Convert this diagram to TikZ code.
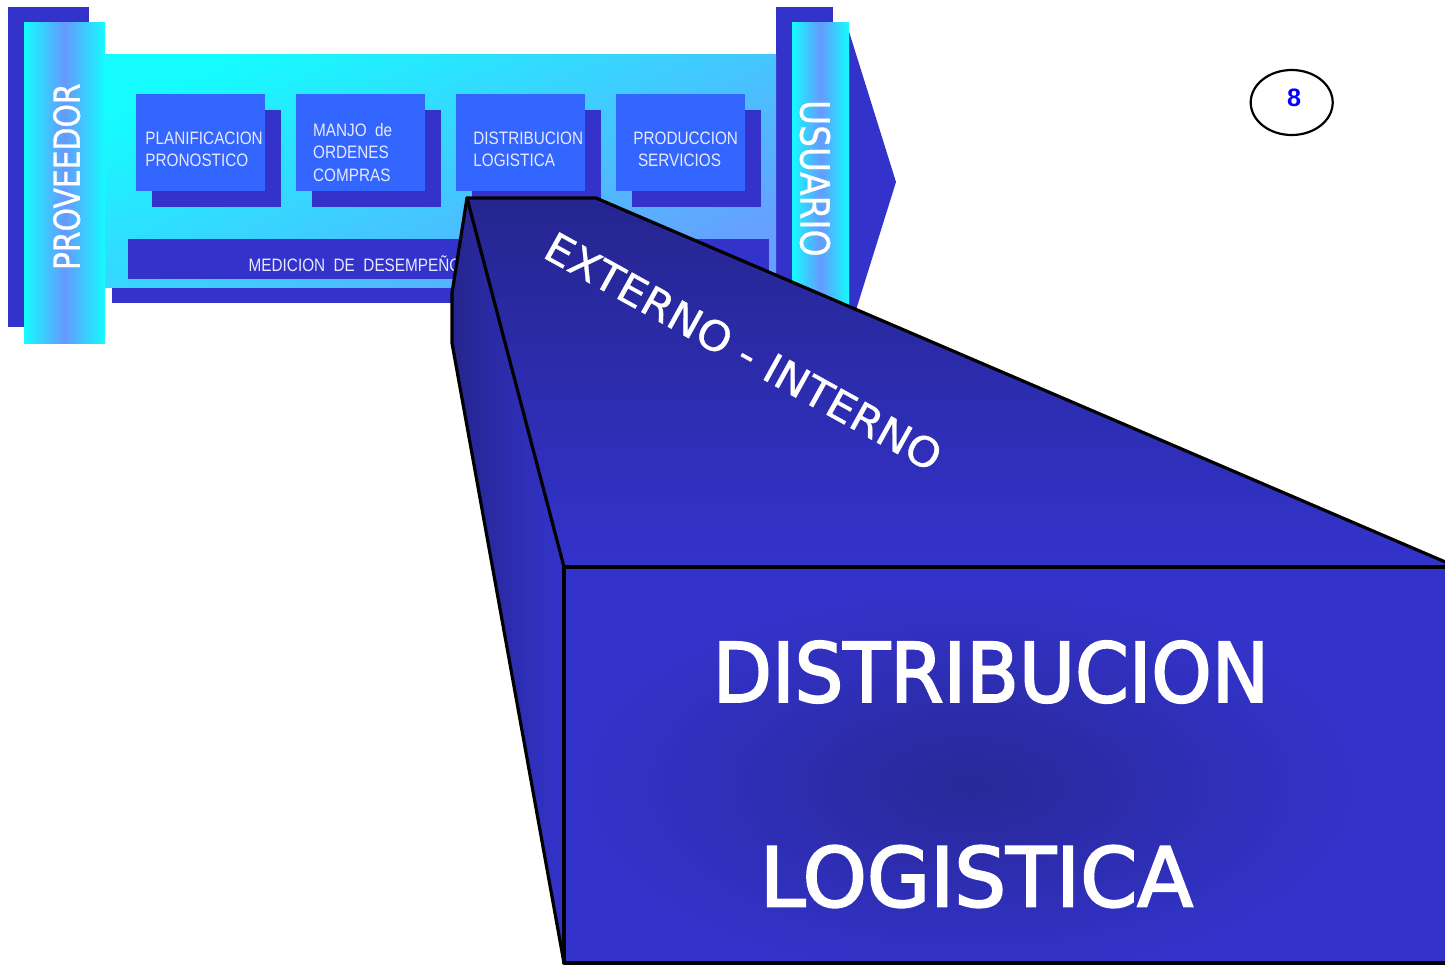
\documentclass[tikz,border=0pt]{standalone}
\usepackage{fontspec}
\usepackage{graphicx}
\usetikzlibrary{shapes.geometric}
\setmainfont{Liberation Sans}
\newfontfamily\narfont[FakeStretch=0.85]{Liberation Sans}
\newfontfamily\dvfont[FakeBold=2.5]{DejaVu Sans}
\newfontfamily\dvlight[FakeBold=0.8]{DejaVu Sans}
\definecolor{dkblue}{HTML}{3333CC}
\definecolor{boxblue}{HTML}{3366FF}
\definecolor{cyanA}{HTML}{14FCFF}
\definecolor{midblue}{HTML}{6699FF}
\definecolor{bandbot}{HTML}{66A0FF}
\definecolor{navy}{HTML}{25258F}
\definecolor{navyc}{HTML}{282898}
\definecolor{lav}{HTML}{E8E8FF}
\newcommand\mlines[1]{\begin{tabular}[t]{@{}l@{}}#1\end{tabular}}
\tikzset{
  lbl/.style={inner sep=0pt, anchor=base west, text=lav, font=\narfont\fontsize{9}{11.3}\selectfont},
  bigtxt/.style={inner sep=0pt, text=white, font=\dvfont},
  edgeline/.style={draw=black, line width=1.6pt, line join=round, line cap=round},
  shadowbox/.style={fill=dkblue},
  frontbox/.style={fill=boxblue},
  pillar/.style={left color=cyanA, right color=cyanA, middle color=midblue}
}
\begin{document}
\begin{tikzpicture}[x=0.5pt,y=-0.5pt]
\path[use as bounding box] (0,0) rectangle (1445,965);
\clip (0,0) rectangle (1445,965);

% back pillars
\fill[dkblue] (8,7) rectangle (89,327);
\fill[dkblue] (776,7) rectangle (833,327);
% band
\fill[dkblue] (112,287) rectangle (792,303);
\shade[top color=cyanA, bottom color=bandbot, shading angle=25] (96,54) rectangle (776,287);

% process boxes
\foreach \x in {136,296,456,616}{
  \fill[shadowbox] (\x+16,110) rectangle (\x+145,207);
  \fill[frontbox] (\x,94) rectangle (\x+129,191);
}
\node[lbl] (plan) at (145,144) {\mlines{PLANIFICACION\\PRONOSTICO}};
\node[lbl] (manjo) at (312.7,136) {\mlines{MANJO\ \ de\\ORDENES\\COMPRAS}};
\node[lbl] (dist) at (473,144) {\mlines{DISTRIBUCION\\LOGISTICA}};
\node[lbl] (prod) at (633,144) {\mlines{PRODUCCION\\\hspace*{2.3pt}SERVICIOS}};

% medicion bar
\fill[dkblue] (128,239) rectangle (769,279);
\node[lbl] (med) at (248.3,271.7) {MEDICION\ \ DE\ \ DESEMPEÑO};

% proveedor
\shade[pillar] (24,22) rectangle (105,343);
\node[bigtxt, font=\dvlight, rotate=90] (prov) at (66.7,176.7) {\resizebox{93.3pt}{13.35pt}{PROVEEDOR}};

% usuario arrow
\fill[dkblue] (846,22) -- (896,182) -- (846,342) -- cycle;
\shade[pillar] (792,22) rectangle (849,343);
\node[bigtxt, font=\dvlight, rotate=-90] (usu) at (815,178.3) {\resizebox{78.3pt}{15pt}{USUARIO}};

% 3D block
\coordinate (A) at (467,198);
\coordinate (B) at (596,198);
\coordinate (C) at (1457,567);
\coordinate (D) at (564,567);
\coordinate (E) at (1457,963);
\coordinate (F) at (564,963);
\coordinate (G) at (452,293);
\coordinate (H) at (452,343);
\shade[top color=navy, bottom color=dkblue] (A) -- (B) -- (C) -- (D) -- cycle;
\shade[left color=navy, right color=dkblue] (A) -- (G) -- (H) -- (F) -- (D) -- cycle;
\fill[dkblue] (D) -- (C) -- (E) -- (F) -- cycle;
\begin{scope}
  \clip (D) -- (C) -- (E) -- (F) -- cycle;
  \shade[inner color=navyc, outer color=dkblue] (970,785) ellipse [x radius=200pt, y radius=100pt];
\end{scope}
\draw[edgeline] (A) -- (B) -- (C);
\draw[edgeline] (A) -- (G) -- (H) -- (F);
\draw[edgeline] (A) -- (D);
\draw[edgeline] (D) -- (C);
\draw[edgeline] (D) -- (F) -- (E);

\node[bigtxt, font=\dvlight, rotate=-29] (ext) at (743.5,351.5) {\resizebox{223pt}{15.25pt}{EXTERNO - INTERNO}};
\node[bigtxt] (bigdist) at (991,672) {\resizebox{278pt}{30.5pt}{DISTRIBUCION}};
\node[bigtxt] (biglog) at (976.5,876.5) {\resizebox{216.5pt}{30.5pt}{LOGISTICA}};

% page number
\node[draw=black, line width=1.1pt, ellipse, minimum width=41pt, minimum height=32.5pt, inner sep=0pt] (pg) at (1291.7,102.5) {};
\node[inner sep=0pt, text=blue, font=\bfseries\fontsize{12.6}{14}\selectfont] (pgnum) at (1294,97.5) {8};
\end{tikzpicture}
\end{document}
